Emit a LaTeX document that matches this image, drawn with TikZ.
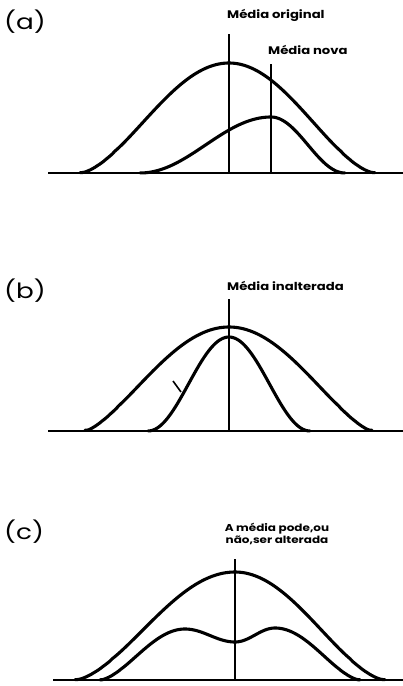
\documentclass[tikz,border=0pt]{standalone}
\usepackage{fontspec}
\setmainfont{Poppins}
\newfontfamily\lblfont[FakeStretch=1.2]{Poppins}
\newfontfamily\panelfont[FakeStretch=1.25]{Poppins}
\begin{document}
\begin{tikzpicture}[x=1pt,y=-1pt,
  declare function={rc(\d,\w,\p)=pow(max((1+cos(180*min(abs(\d)/\w,1)))/2,0.001),\p);},
  curve/.style={line width=3.1pt, line join=round, line cap=round},
  axis/.style={line width=1.6pt},
  meanline/.style={line width=2pt},
  lbl/.style={font=\lblfont\bfseries\fontsize{11}{12.5}\selectfont, inner sep=0pt},
  panel/.style={font=\panelfont\fontsize{21}{24}\selectfont, inner sep=0pt, anchor=west}]
\useasboundingbox (0,0) rectangle (403,686);
% ---------- (a)
\node[panel] (la) at (4,22) {(a)};
\draw[axis] (48,173) -- (403,173);
\draw[curve] plot[domain=80:229, samples=70] (\x,{173-110*rc(\x-229,149,0.8)})
  -- plot[domain=229:375, samples=70] (\x,{173-110*rc(\x-229,146,0.8)});
\draw[curve] plot[domain=140:271, samples=70] (\x,{173-56*rc(\x-271,131,1)})
  -- plot[domain=271:345, samples=50] (\x,{173-56*rc(\x-271,74,1)});
\coordinate (a1t) at (229,34); \coordinate (a1b) at (229,173);
\coordinate (a2t) at (271,64); \coordinate (a2b) at (271,173);
\draw[meanline] (a1t) -- (a1b);
\draw[meanline] (a2t) -- (a2b);
\node[lbl, anchor=west] (orig) at (227,15) {Média original};
\node[lbl, anchor=west] (nova) at (268,50) {Média nova};
% ---------- (b)
\node[panel] (lb) at (4,291) {(b)};
\draw[axis] (48,431) -- (403,431);
\draw[curve] plot[domain=85:229, samples=70] (\x,{431-104*rc(\x-229,144,0.7)})
  -- plot[domain=229:372, samples=70] (\x,{431-104*rc(\x-229,143,0.7)});
\draw[curve] plot[domain=148:310, samples=90] (\x,{431-94*rc(\x-229,81,1)});
\coordinate (bt) at (229,299); \coordinate (bb) at (229,431);
\draw[meanline, line width=1.6pt] (bt) -- (bb);
\coordinate (k1) at (173,381); \coordinate (k2) at (181,392);
\draw[line width=1.6pt] (k1) -- (k2);
\node[lbl, anchor=west] (inalt) at (227,286) {Média inalterada};
% ---------- (c)
\node[panel] (lc) at (4,532) {(c)};
\draw[axis] (53,680) -- (403,680);
\draw[curve] plot[domain=75:235, samples=70] (\x,{680-108*rc(\x-235,160,0.8)})
  -- plot[domain=235:385, samples=70] (\x,{680-108*rc(\x-235,150,0.8)});
\draw[curve] plot[domain=100:185, samples=50] (\x,{680-51*rc(\x-185,85,0.8)})
  -- plot[domain=185:235, samples=30] (\x,{680-(38+13*(1+cos(180*(\x-185)/50))/2)})
  -- plot[domain=235:275, samples=30] (\x,{680-(38+14*(1+cos(180*(\x-275)/40))/2)})
  -- plot[domain=275:360, samples=50] (\x,{680-52*rc(\x-275,85,0.8)});
\coordinate (ct) at (235,559); \coordinate (cb) at (235,680);
\draw[meanline, line width=1.4pt] (ct) -- (cb);
\node[lbl, align=center, font=\lblfont\bfseries\fontsize{10}{12}\selectfont] (pode) at (277,534) {A média pode,ou\\não,ser alterada};
\end{tikzpicture}
\end{document}
